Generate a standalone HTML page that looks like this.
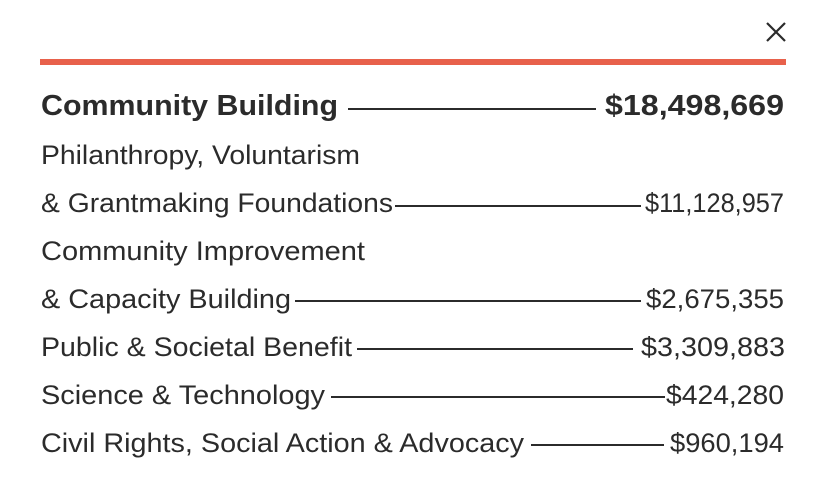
<!DOCTYPE html>
<html>
<head>
<meta charset="utf-8">
<style>
  html, body { margin: 0; padding: 0; background: #ffffff; }
  body { width: 826px; height: 500px; overflow: hidden; }
  svg { display: block; }
  .t { font-family: "Liberation Sans", Arial, sans-serif; fill: #2b2b2b; font-size: 27px; }
  .b { font-weight: bold; font-size: 29px; }
</style>
</head>
<body>
<svg width="826" height="500" viewBox="0 0 826 500" xmlns="http://www.w3.org/2000/svg">
  <rect x="0" y="0" width="826" height="500" fill="#ffffff"/>
  <!-- close X -->
  <line x1="767" y1="23" x2="785" y2="41" stroke="#2b2b2b" stroke-width="2.2"/>
  <line x1="785" y1="23" x2="767" y2="41" stroke="#2b2b2b" stroke-width="2.2"/>
  <!-- orange bar -->
  <rect x="40" y="59" width="746" height="6" fill="#E8614B"/>

  <!-- Row 1 -->
  <text class="t b" x="41" y="115" textLength="297" lengthAdjust="spacingAndGlyphs">Community Building</text>
  <line x1="348" y1="109" x2="596" y2="109" stroke="#2b2b2b" stroke-width="2"/>
  <text class="t b" x="784" y="115" text-anchor="end" textLength="179" lengthAdjust="spacingAndGlyphs">$18,498,669</text>

  <!-- Row 2/3 -->
  <text class="t" x="41" y="164" textLength="319" lengthAdjust="spacingAndGlyphs">Philanthropy, Voluntarism</text>
  <text class="t" x="41" y="212" textLength="352" lengthAdjust="spacingAndGlyphs">&amp; Grantmaking Foundations</text>
  <line x1="395" y1="206" x2="641" y2="206" stroke="#2b2b2b" stroke-width="2"/>
  <text class="t" x="784" y="212" text-anchor="end" textLength="139" lengthAdjust="spacingAndGlyphs">$11,128,957</text>

  <!-- Row 4/5 -->
  <text class="t" x="41" y="260" textLength="324" lengthAdjust="spacingAndGlyphs">Community Improvement</text>
  <text class="t" x="41" y="308" textLength="250" lengthAdjust="spacingAndGlyphs">&amp; Capacity Building</text>
  <line x1="295" y1="301" x2="641" y2="301" stroke="#2b2b2b" stroke-width="2"/>
  <text class="t" x="784" y="308" text-anchor="end" textLength="138" lengthAdjust="spacingAndGlyphs">$2,675,355</text>

  <!-- Row 6 -->
  <text class="t" x="41" y="356" textLength="311" lengthAdjust="spacingAndGlyphs">Public &amp; Societal Benefit</text>
  <line x1="357" y1="349" x2="633" y2="349" stroke="#2b2b2b" stroke-width="2"/>
  <text class="t" x="785" y="356" text-anchor="end" textLength="144" lengthAdjust="spacingAndGlyphs">$3,309,883</text>

  <!-- Row 7 -->
  <text class="t" x="41" y="404" textLength="284" lengthAdjust="spacingAndGlyphs">Science &amp; Technology</text>
  <line x1="331" y1="397" x2="665" y2="397" stroke="#2b2b2b" stroke-width="2"/>
  <text class="t" x="784" y="404" text-anchor="end" textLength="118" lengthAdjust="spacingAndGlyphs">$424,280</text>

  <!-- Row 8 -->
  <text class="t" x="41" y="452" textLength="483" lengthAdjust="spacingAndGlyphs">Civil Rights, Social Action &amp; Advocacy</text>
  <line x1="531" y1="445" x2="664" y2="445" stroke="#2b2b2b" stroke-width="2"/>
  <text class="t" x="784" y="452" text-anchor="end" textLength="114" lengthAdjust="spacingAndGlyphs">$960,194</text>
</svg>
</body>
</html>
